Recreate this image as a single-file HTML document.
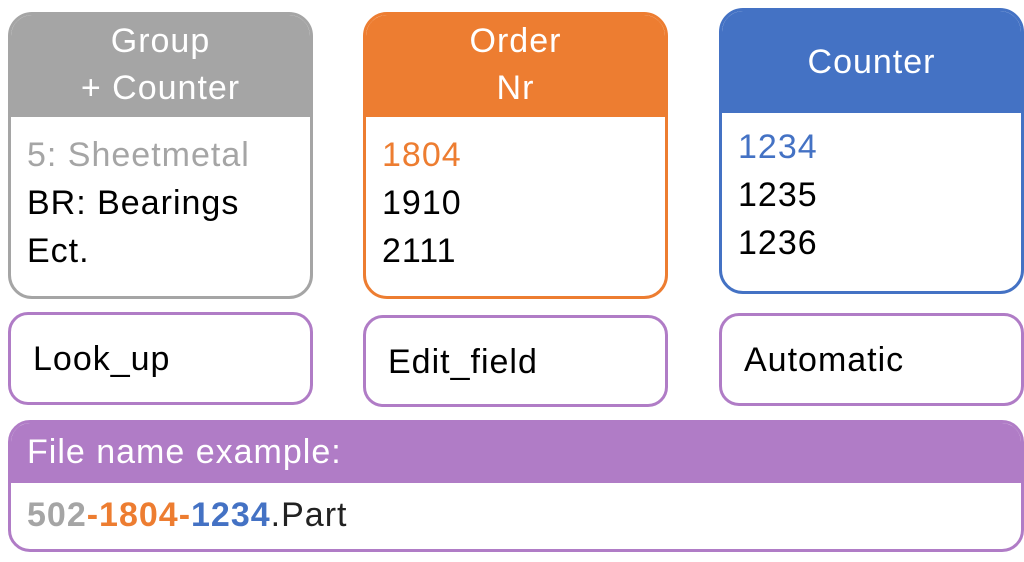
<!DOCTYPE html>
<html><head><style>
body{margin:0;width:1024px;height:562px;background:#fff;position:relative;overflow:hidden;font-family:"Liberation Sans",sans-serif;}
.b{position:absolute;box-sizing:border-box;border:3px solid;border-radius:24px;overflow:hidden;background:#fff}
.h{color:#fff;text-align:center;font-size:34px;letter-spacing:1px;line-height:47px;box-sizing:border-box}
.t{position:absolute;font-size:34px;letter-spacing:1px;line-height:40px;white-space:nowrap}
</style></head><body>
<div class="b" style="left:8px;top:12px;width:305px;height:287px;border-color:#a5a5a5">
 <div class="h" style="background:#a5a5a5;height:102px;padding-top:3px">Group<br>+ Counter</div>
 <div class="t" style="left:16px;top:120px;color:#a5a5a5">5: Sheetmetal</div>
 <div class="t" style="left:16px;top:168px;color:#000">BR: Bearings</div>
 <div class="t" style="left:16px;top:216px;color:#000">Ect.</div>
</div>
<div class="b" style="left:363px;top:12px;width:305px;height:287px;border-color:#ed7d31">
 <div class="h" style="background:#ed7d31;height:102px;padding-top:3px">Order<br>Nr</div>
 <div class="t" style="left:16px;top:120px;color:#ed7d31">1804</div>
 <div class="t" style="left:16px;top:168px;color:#000">1910</div>
 <div class="t" style="left:16px;top:216px;color:#000">2111</div>
</div>
<div class="b" style="left:719px;top:8px;width:305px;height:286px;border-color:#4472c4">
 <div class="h" style="background:#4472c4;height:102px;line-height:102px">Counter</div>
 <div class="t" style="left:16px;top:116px;color:#4472c4">1234</div>
 <div class="t" style="left:16px;top:164px;color:#000">1235</div>
 <div class="t" style="left:16px;top:212px;color:#000">1236</div>
</div>
<div class="b" style="left:8px;top:312px;width:305px;height:93px;border-color:#b07cc6;border-radius:20px"><div class="t" style="left:22px;top:24px">Look_up</div></div>
<div class="b" style="left:363px;top:315px;width:305px;height:92px;border-color:#b07cc6;border-radius:20px"><div class="t" style="left:22px;top:24px">Edit_field</div></div>
<div class="b" style="left:719px;top:313px;width:305px;height:93px;border-color:#b07cc6;border-radius:20px"><div class="t" style="left:22px;top:24px">Automatic</div></div>
<div class="b" style="left:8px;top:420px;width:1016px;height:132px;border-color:#b07cc6;border-radius:22px">
 <div style="background:#b07cc6;height:60px"></div>
 <div class="t" style="left:16px;top:9px;color:#fff">File name example:</div>
 <div class="t" style="left:16px;top:72px;color:#222"><b style="color:#a5a5a5">502</b><b style="color:#ed7d31">-1804-</b><b style="color:#4472c4">1234</b>.Part</div>
</div>
</body></html>
